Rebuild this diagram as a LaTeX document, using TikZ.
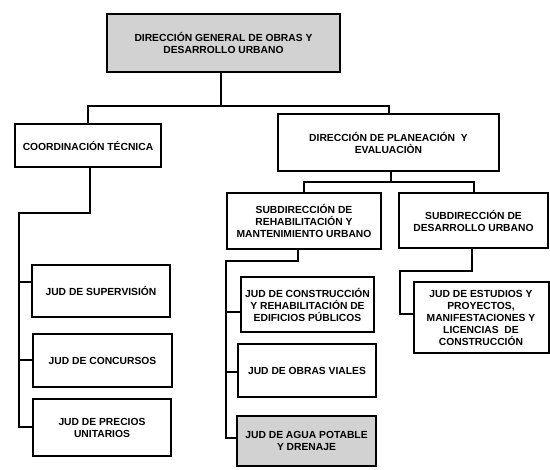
\documentclass[tikz,border=0pt]{standalone}
\usepackage{fontspec}
\setmainfont{Liberation Sans}
\usetikzlibrary{calc}
\definecolor{boxgray}{RGB}{210,210,210}
\begin{document}
\begin{tikzpicture}[x=1pt,y=-1pt,
  orgbox/.style={draw=black,line width=2pt,fill=white,align=center,inner sep=1pt,
    font=\fontsize{10.3}{12}\selectfont\bfseries},
  grayfill/.style={fill=boxgray},
  conn/.style={draw=black,line width=2pt}]
\useasboundingbox (0,0) rectangle (550,470);
\node[orgbox,grayfill,minimum width=233pt,minimum height=58pt] (top) at (223.5,43) {DIRECCIÓN GENERAL DE OBRAS Y\\DESARROLLO URBANO};
\node[orgbox,minimum width=146pt,minimum height=43pt] (coord) at (88,145.5) {COORDINACIÓN TÉCNICA};
\node[orgbox,minimum width=221pt,minimum height=57pt] (dpe) at (388.5,142.5) {DIRECCIÓN DE PLANEACIÓN\ \ Y\\EVALUACIÒN};
\node[orgbox,minimum width=138pt,minimum height=52pt] (sup) at (101,291) {JUD DE SUPERVISIÓN};
\node[orgbox,minimum width=139pt,minimum height=53pt] (conc) at (102.5,360.5) {JUD DE CONCURSOS};
\node[orgbox,minimum width=138pt,minimum height=57pt] (prec) at (102,427.5) {JUD DE PRECIOS\\UNITARIOS};
\node[orgbox,minimum width=154pt,minimum height=56pt] (subr) at (304,221) {SUBDIRECCIÓN DE\\REHABILITACIÓN Y\\MANTENIMIENTO URBANO};
\node[orgbox,minimum width=149pt,minimum height=55pt] (subd) at (473.5,220.5) {SUBDIRECCIÓN DE\\DESARROLLO URBANO};
\node[orgbox,minimum width=133pt,minimum height=55pt] (jcon) at (307.5,304.5) {JUD DE CONSTRUCCIÓN\\Y REHABILITACIÓN DE\\EDIFICIOS PÚBLICOS};
\node[orgbox,minimum width=138pt,minimum height=53pt] (jov) at (307,370.5) {JUD DE OBRAS VIALES};
\node[orgbox,grayfill,minimum width=139pt,minimum height=50pt] (jagua) at (306.5,441) {JUD DE AGUA POTABLE\\Y DRENAJE};
\node[orgbox,minimum width=135pt,minimum height=71pt] (jest) at (481,317.5) {JUD DE ESTUDIOS Y\\PROYECTOS,\\MANIFESTACIONES Y\\LICENCIAS\ \ DE\\CONSTRUCCIÓN};
% top level
\coordinate (t0) at ($(top.south)+(-3,0)$);
\coordinate (j1) at ($(t0)+(0,33)$);
\draw[conn] (t0) -- (j1);
\draw[conn] (coord.north) |- (j1) -| (dpe.north);
% dpe to subdirecciones
\coordinate (p0) at ($(dpe.south)+(2,0)$);
\coordinate (j2) at ($(p0)+(0,10)$);
\draw[conn] (p0) -- (j2);
\draw[conn] (subr.north) |- (j2) -| (subd.north);
% coordinacion
\coordinate (c0) at ($(coord.south)+(2,0)$);
\coordinate (c1) at ($(c0)+(0,45)$);
\coordinate (c2) at ($(c1)+(-71,0)$);
\draw[conn] (c0) -- (c1) -- (c2) |- (prec.west);
\draw[conn] ($(c2 |- sup.west)+(0,-9)$) -- ($(sup.west)+(0,-9)$);
\draw[conn] (c2 |- conc.west) -- (conc.west);
% rehabilitacion
\coordinate (r0) at ($(subr.south)+(-6,0)$);
\coordinate (r1) at ($(r0)+(0,11)$);
\coordinate (r2) at ($(r1)+(-72,0)$);
\draw[conn] (r0) -- (r1) -- (r2) |- ($(jagua.west)+(0,-3)$);
\draw[conn] ($(r2 |- jcon.west)+(0,8)$) -- ($(jcon.west)+(0,8)$);
\draw[conn] ($(r2 |- jov.west)+(0,2)$) -- ($(jov.west)+(0,2)$);
% desarrollo
\coordinate (d0) at ($(subd.south)+(-2,0)$);
\coordinate (d1) at ($(d0)+(0,22)$);
\coordinate (d2) at ($(d1)+(-72,0)$);
\draw[conn] (d0) -- (d1) -- (d2) |- ($(jest.west)+(0,-3)$);
\end{tikzpicture}
\end{document}
